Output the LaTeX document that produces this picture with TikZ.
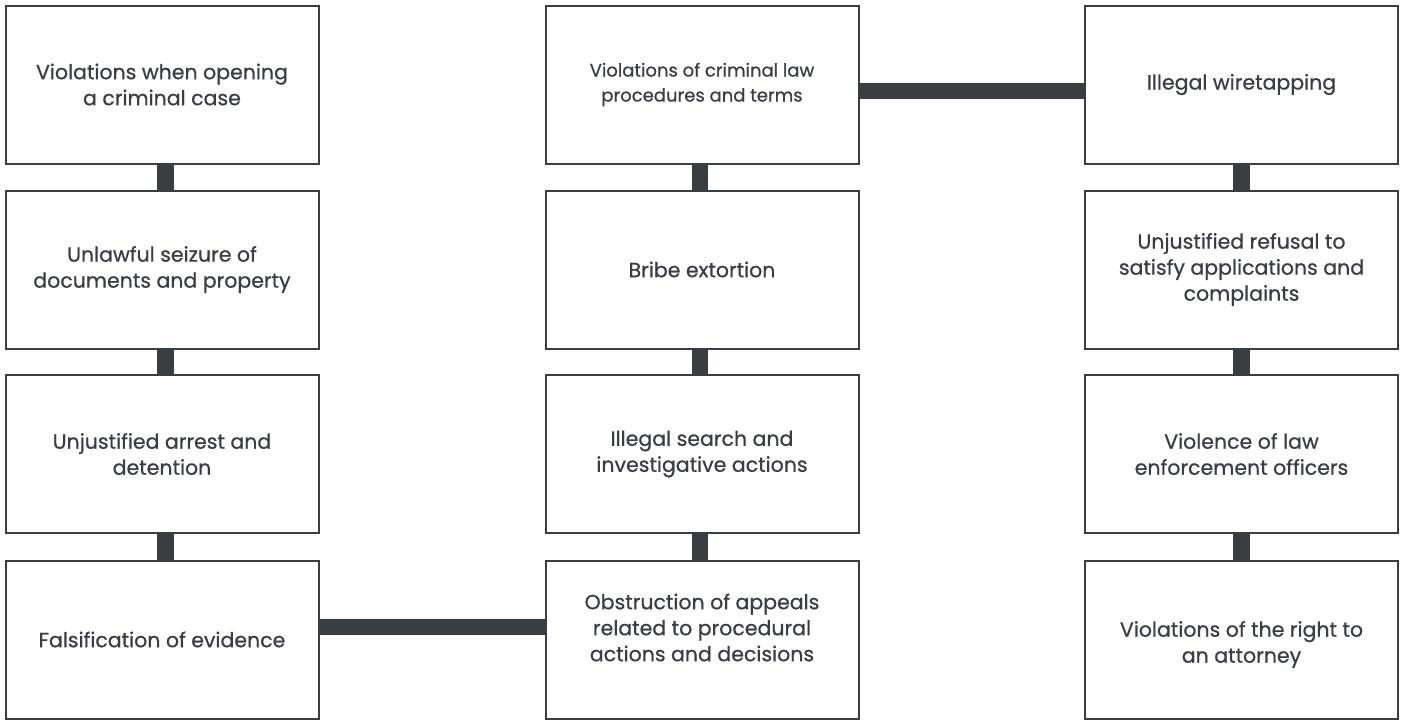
\documentclass[tikz,border=0pt]{standalone}
\usepackage{fontspec}
\setmainfont{Poppins}[FakeBold=0.7]
\definecolor{ink}{HTML}{3A3D42}
\begin{document}
\begin{tikzpicture}[x=1pt,y=-1pt,
  txt/.style={align=center,text=ink,inner sep=0pt,font=\fontsize{20.5}{26}\selectfont},
  box/.style={draw=ink,line width=2pt,minimum width=313pt,minimum height=158pt,inner sep=0pt,txt},
  conn/.style={draw=ink,line width=16.5pt}]
\useasboundingbox (0,0) rectangle (1402,720);
\node[box] (a1) at (162,84.5) {Violations when opening\\a criminal case};
\node[box] (a2) at (162,269.5) {Unlawful seizure of\\documents and property};
\node[box] (a3) at (162,454) {Unjustified arrest and\\detention};
\node[box] (a4) at (162,639.5) {Falsification of evidence};
\node[box,font=\fontsize{18}{25}\selectfont] (b1) at (702,84.5) {Violations of criminal law\\procedures and terms};
\node[box] (b2) at (702,269.5) {Bribe extortion};
\node[box] (b3) at (702,454) {Illegal search and\\investigative actions};
\node[box,label={[txt,yshift=12pt]center:{Obstruction of appeals\\related to procedural\\actions and decisions}}] (b4) at (702,639.5) {};
\node[box] (c1) at (1241.5,84.5) {Illegal wiretapping};
\node[box] (c2) at (1241.5,269.5) {Unjustified refusal to\\satisfy applications and\\complaints};
\node[box] (c3) at (1241.5,454) {Violence of law\\enforcement officers};
\node[box,label={[txt,yshift=-5pt]center:{Violations of the right to\\an attorney}}] (c4) at (1241.5,639.5) {};
\draw[conn] ([xshift=3.5pt]a1.south) -- ([xshift=3.5pt]a2.north);
\draw[conn] ([xshift=3.5pt]a2.south) -- ([xshift=3.5pt]a3.north);
\draw[conn] ([xshift=3.5pt]a3.south) -- ([xshift=3.5pt]a4.north);
\draw[conn] ([xshift=-2pt]b1.south) -- ([xshift=-2pt]b2.north);
\draw[conn] ([xshift=-2pt]b2.south) -- ([xshift=-2pt]b3.north);
\draw[conn] ([xshift=-2pt]b3.south) -- ([xshift=-2pt]b4.north);
\draw[conn] (c1.south) -- (c2.north);
\draw[conn] (c2.south) -- (c3.north);
\draw[conn] (c3.south) -- (c4.north);
\draw[conn] ([yshift=-6.5pt]b1.east) -- ([yshift=-6.5pt]c1.west);
\draw[conn] ([yshift=12.5pt]a4.east) -- ([yshift=12.5pt]b4.west);
\end{tikzpicture}
\end{document}
